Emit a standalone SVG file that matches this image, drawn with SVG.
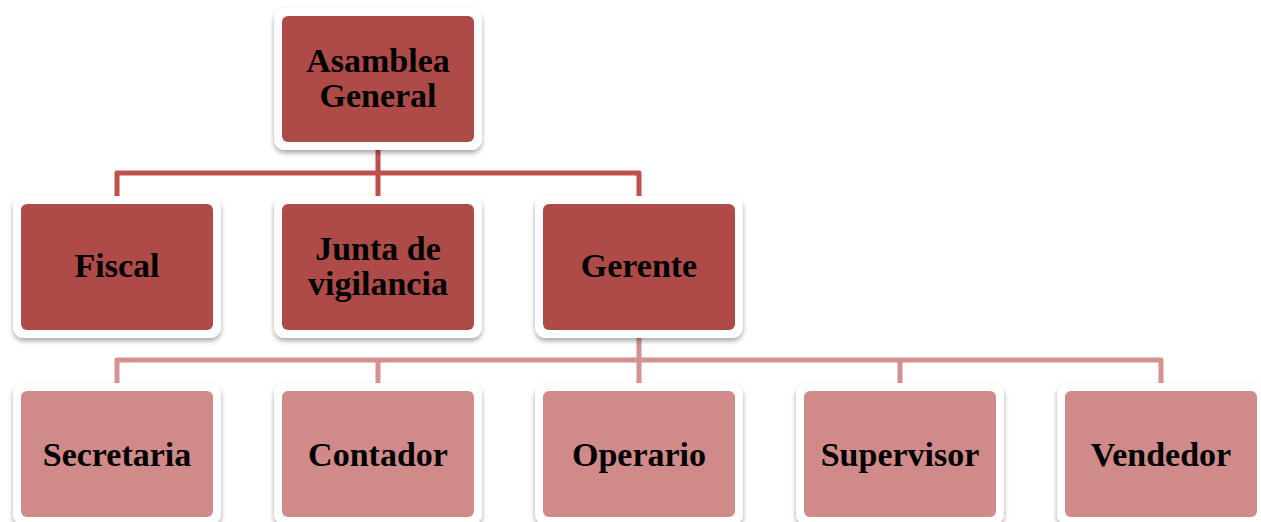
<svg xmlns="http://www.w3.org/2000/svg" width="1261" height="522" viewBox="0 0 1261 522">
<defs>
<filter id="sh" x="-10%" y="-10%" width="120%" height="125%">
<feDropShadow dx="0" dy="3" stdDeviation="2.5" flood-color="#000" flood-opacity="0.35"/>
</filter>
</defs>
<style>
.o{fill:#fff;filter:url(#sh)}
.d{fill:#AE4A47}
.l{fill:#D08A89}
.t{font-family:"Liberation Serif","Times New Roman",serif;font-weight:bold;font-size:34px;fill:#000;text-anchor:middle}
.c1{fill:none;stroke:#C0504D;stroke-width:5;stroke-linejoin:round}
.c2{fill:none;stroke:#D6918F;stroke-width:5;stroke-linejoin:round}
</style>
<rect width="1261" height="522" fill="#fff"/>
<g id="connectors">
<path class="c1" d="M378 146V196M117 196V173H639V196"/>
<path class="c2" d="M639 333V383M117 383V360H1161V383M378 360V383M900 360V383"/>
</g>
<g id="n-asamblea">
<rect class="o" x="274" y="8" width="208" height="142" rx="11"/>
<rect class="d" x="282" y="16" width="192" height="126" rx="6"/>
<text class="t" x="378" y="72">Asamblea</text>
<text class="t" x="378" y="107">General</text>
</g>
<g id="n-fiscal">
<rect class="o" x="13" y="196" width="208" height="142" rx="11"/>
<rect class="d" x="21" y="204" width="192" height="126" rx="6"/>
<text class="t" x="117" y="277">Fiscal</text>
</g>
<g id="n-junta">
<rect class="o" x="274" y="196" width="208" height="142" rx="11"/>
<rect class="d" x="282" y="204" width="192" height="126" rx="6"/>
<text class="t" x="378" y="260">Junta de</text>
<text class="t" x="378" y="295">vigilancia</text>
</g>
<g id="n-gerente">
<rect class="o" x="535" y="196" width="208" height="142" rx="11"/>
<rect class="d" x="543" y="204" width="192" height="126" rx="6"/>
<text class="t" x="639" y="277">Gerente</text>
</g>
<g id="n-secretaria">
<rect class="o" x="13" y="383" width="208" height="142" rx="11"/>
<rect class="l" x="21" y="391" width="192" height="126" rx="6"/>
<text class="t" x="117" y="466">Secretaria</text>
</g>
<g id="n-contador">
<rect class="o" x="274" y="383" width="208" height="142" rx="11"/>
<rect class="l" x="282" y="391" width="192" height="126" rx="6"/>
<text class="t" x="378" y="466">Contador</text>
</g>
<g id="n-operario">
<rect class="o" x="535" y="383" width="208" height="142" rx="11"/>
<rect class="l" x="543" y="391" width="192" height="126" rx="6"/>
<text class="t" x="639" y="466">Operario</text>
</g>
<g id="n-supervisor">
<rect class="o" x="796" y="383" width="208" height="142" rx="11"/>
<rect class="l" x="804" y="391" width="192" height="126" rx="6"/>
<text class="t" x="900" y="466">Supervisor</text>
</g>
<g id="n-vendedor">
<rect class="o" x="1057" y="383" width="208" height="142" rx="11"/>
<rect class="l" x="1065" y="391" width="192" height="126" rx="6"/>
<text class="t" x="1161" y="466">Vendedor</text>
</g>
</svg>
